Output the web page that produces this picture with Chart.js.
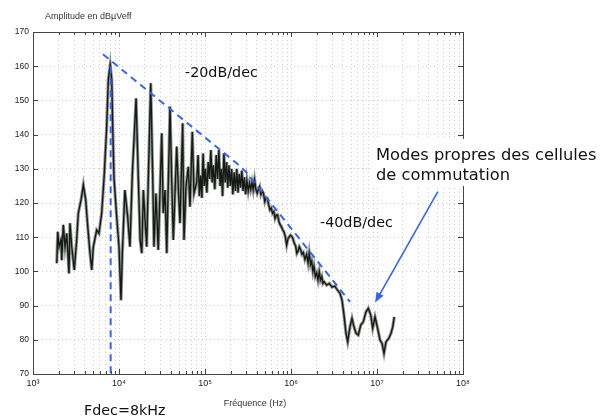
<!DOCTYPE html>
<html>
<head>
<meta charset="utf-8">
<script src="https://cdn.jsdelivr.net/npm/chart.js@4.4.0/dist/chart.umd.min.js"></script>
<style>
body { margin: 0; background: #fff; }
#wrap { width: 602px; height: 419px; }
</style>
</head>
<body>
<div id="wrap"><canvas id="spectre" width="602" height="419"></canvas></div>
<script>
// measured spectrum read off the plot: frequency (Hz) / amplitude (dBuV eff)
// low frequencies up to the 16 kHz harmonic
let freq_bas = [1890, 1940, 2010, 2120, 2160, 2250, 2360, 2470, 2620, 2690, 2820, 3020, 3220, 3360, 3620, 3850, 4100, 4330, 4600, 4820,
    5030, 5500, 5850, 6290, 6750, 7190, 7510, 7900, 8230, 8450, 8750, 9400, 10000, 10550, 10900, 11700, 12600, 13400, 14300, 15800];
let ampl_bas = [102.4, 111.6, 107.2, 109.2, 103.3, 113.6, 107.2, 111.1, 99.4, 114.1, 107.2, 100.4, 109.2, 117, 120.9, 125.3, 120.9, 113.1, 105.3, 100.4,
    107.2, 112.1, 111.1, 117, 128.7, 142.3, 156, 160.4, 156, 142.3, 127.2, 116, 107.2, 91.6, 104.3, 123.8, 116, 107.2, 128.7, 150.6];
// harmonics of Fdec
let freq_harm = [16800, 17600, 18400, 19200, 20100, 21000, 21900, 23400, 24700, 25500, 26900, 28600, 31400, 32700, 34300, 35900, 39200, 41000, 42800, 46900,
    48900, 51200, 55000, 57000, 60100, 63900, 66900, 71200, 74500];
let ampl_harm = [126.7, 109.2, 105.3, 123.8, 115, 107.2, 126.7, 155, 126.7, 107.2, 122.8, 106.3, 140.4, 117, 123.8, 105.3, 148.2, 126.7, 109.2, 136.5,
    124.8, 114.1, 143.3, 109.2, 124.8, 130.6, 118.9, 140.8, 122.8];
// dense band 80 kHz .. 300 kHz, then the slope down to 1.3 MHz
let freq_dense = [80000, 83000, 86000, 89000, 92000, 95000, 98000, 101000, 105000, 109000, 113000, 117000, 121000, 125000, 130000, 135000, 140000, 145000, 150000, 155000,
    160000, 166000, 172000, 178000, 184000, 190000, 197000, 204000, 211000, 218000, 226000, 234000, 242000, 250000, 259000, 268000, 277000, 287000, 297000, 307000,
    318000, 329000, 340000, 352000, 364000, 377000, 390000, 404000, 418000, 432000, 447000, 463000, 479000, 496000, 513000, 531000, 550000, 569000, 589000, 610000,
    631000, 653000, 676000, 700000, 724000, 750000, 776000, 803000, 831000, 860000, 890000, 921000, 953000, 986000, 1020000, 1055000, 1092000, 1130000, 1170000, 1210000,
    1250000, 1290000, 1340000];
let ampl_dense = [126, 134, 122, 128, 121.5, 134.5, 125, 130, 123, 132, 127, 135.5, 126, 131, 124, 134, 127, 135.5, 125, 130,
    122, 134.5, 126, 132, 124.5, 131, 125, 130, 122.5, 129, 123.5, 130, 123, 128.5, 124.5, 129.5, 123.5, 127.5, 122.5, 126.5,
    123.5, 125.8, 124, 126, 123.8, 126.7, 124, 122.8, 124, 124.8, 122.5, 123.5, 122.8, 120.4, 121.5, 121.4, 119.5, 118, 118.5, 117,
    117.5, 115.5, 116.5, 116.5, 114.5, 113.6, 113, 112.1, 111.5, 110.1, 107.7, 109.5, 110.1, 110.6, 110.3, 109.5, 108.2, 107.5, 105.3, 106,
    107.2, 106.5, 105];
// high frequencies, switching cell modes
let freq_hf = [1390000, 1450000, 1520000, 1580000, 1630000, 1690000, 1740000, 1800000, 1850000, 1920000, 1990000, 2060000, 2130000, 2200000, 2280000, 2350000, 2420000, 2600000, 2790000, 3000000,
    3220000, 3460000, 3710000, 3920000, 4130000, 4360000, 4560000, 4850000, 5120000, 5400000, 5700000, 6060000, 6470000, 6930000, 7450000, 7920000, 8450000, 8910000, 9480000, 10080000,
    10840000, 11430000, 12060000, 12730000, 13680000, 14550000, 15230000, 15890000];
let ampl_hf = [105.5, 103.5, 105, 102.5, 105.3, 102, 103, 100, 101.5, 98.5, 99.5, 97.5, 99.9, 97.5, 98.5, 96.5, 97, 96, 96.5, 95.4,
    95.7, 94.6, 93.6, 91.6, 87.3, 81.9, 79.4, 83.8, 86.3, 83.8, 81.9, 81.4, 84.3, 85.3, 88.2, 89.2, 87.3, 83.4, 86.7, 83.8,
    79.9, 79, 76, 79.4, 80.4, 81.9, 83.8, 86.7];

// dashed asymptote (-20dB/dec then -40dB/dec)
let pente_f = [6520, 233700, 262000, 291900, 4853000];
let pente_db = [163.5, 131.6, 130.5, 129.4, 91.1];
// switching frequency marker
let fdec_f = [8000, 8000];
let fdec_db = [160, 70];
// arrow towards the switching cell modes
let fleche_f = [51000000, 9500000];
let fleche_db = [123.3, 90.9];

let decades = [3, 4, 5, 6, 7, 8];
let xlabels = ['10\u00b3', '10\u2074', '10\u2075', '10\u2076', '10\u2077', '10\u2078'];
let ymin = 70, ymax = 170, ystep = 10;

let bleu = '#3366ee';

let freq = freq_bas.concat(freq_harm, freq_dense, freq_hf);
let ampl = ampl_bas.concat(ampl_harm, ampl_dense, ampl_hf);
let spectre = freq.map((f, i) => ({ x: f, y: ampl[i] }));

let xticks = [];
decades.forEach((e) => {
    if (e == 8) { xticks.push(Math.pow(10, e)); return; }
    for (let m = 1; m <= 9; m++) xticks.push(m * Math.pow(10, e));
});

const cadre = {
    id: 'cadre',
    afterDraw(chart) {
        const { ctx, chartArea: a, scales: { x, y } } = chart;
        ctx.save();
        ctx.strokeStyle = '#444';
        ctx.lineWidth = 1;
        ctx.strokeRect(Math.round(a.left) + 0.5, Math.round(a.top) + 0.5, Math.round(a.right - a.left), Math.round(a.bottom - a.top));
        // small inner tick marks, matlab style
        ctx.beginPath();
        x.ticks.forEach((t) => {
            let px = Math.round(x.getPixelForValue(t.value)) + 0.5;
            let len = t.label ? 5 : 3;
            ctx.moveTo(px, a.bottom); ctx.lineTo(px, a.bottom - len);
            ctx.moveTo(px, a.top); ctx.lineTo(px, a.top + len);
        });
        y.ticks.forEach((t) => {
            let py = Math.round(y.getPixelForValue(t.value)) + 0.5;
            ctx.moveTo(a.left, py); ctx.lineTo(a.left + 5, py);
            ctx.moveTo(a.right, py); ctx.lineTo(a.right - 5, py);
        });
        ctx.stroke();

        // arrow
        let x0 = x.getPixelForValue(fleche_f[0]), y0 = y.getPixelForValue(fleche_db[0]);
        let x1 = x.getPixelForValue(fleche_f[1]), y1 = y.getPixelForValue(fleche_db[1]);
        let ang = Math.atan2(y1 - y0, x1 - x0);
        ctx.strokeStyle = bleu;
        ctx.fillStyle = bleu;
        ctx.lineWidth = 1.6;
        ctx.beginPath();
        ctx.moveTo(x0, y0);
        ctx.lineTo(x1 - 8 * Math.cos(ang), y1 - 8 * Math.sin(ang));
        ctx.stroke();
        ctx.beginPath();
        ctx.moveTo(x1, y1);
        ctx.lineTo(x1 - 10 * Math.cos(ang) + 4 * Math.sin(ang), y1 - 10 * Math.sin(ang) - 4 * Math.cos(ang));
        ctx.lineTo(x1 - 10 * Math.cos(ang) - 4 * Math.sin(ang), y1 - 10 * Math.sin(ang) + 4 * Math.cos(ang));
        ctx.closePath();
        ctx.fill();

        // texts
        ctx.fillStyle = '#333';
        ctx.textBaseline = 'middle';
        ctx.font = '9px "Liberation Sans", Arial, sans-serif';
        ctx.textAlign = 'left';
        ctx.fillText('Amplitude en dB\u00b5Veff', 45, 17);
        ctx.textAlign = 'center';
        ctx.fillText('Fr\u00e9quence (Hz)', 255, 404);

        ctx.fillStyle = '#111';
        ctx.textAlign = 'left';
        ctx.textBaseline = 'alphabetic';
        ctx.font = '14.3px "DejaVu Sans", sans-serif';
        ctx.fillText('-20dB/dec', 185, 77);
        ctx.fillText('-40dB/dec', 320, 227);
        ctx.fillText('Fdec=8kHz', 84, 415);
        // text box with white background over the plot frame
        ctx.fillStyle = '#fff';
        ctx.fillRect(372, 139, 230, 47);
        ctx.fillStyle = '#111';
        ctx.font = '16.3px "DejaVu Sans", sans-serif';
        ctx.fillText('Modes propres des cellules', 376, 160);
        ctx.fillText('de commutation', 376, 180);
        ctx.restore();
    }
};

let ctx = document.getElementById('spectre');
let chart = new Chart(ctx, {
    type: 'line',
    data: {
        datasets: [
            {
                // dark trace
                data: spectre,
                borderColor: '#161916',
                borderWidth: 1.4,
                pointRadius: 0,
                tension: 0,
                order: 2,
            },
            {
                // grey halo of the scanned trace
                data: spectre,
                borderColor: 'rgba(120,126,120,0.8)',
                borderWidth: 3.2,
                pointRadius: 0,
                tension: 0,
                order: 3,
            },
            {
                data: pente_f.map((f, i) => ({ x: f, y: pente_db[i] })),
                borderColor: bleu,
                borderWidth: 2,
                borderDash: [7, 5],
                pointRadius: 0,
                tension: 0,
                order: 1,
            },
            {
                data: fdec_f.map((f, i) => ({ x: f, y: fdec_db[i] })),
                borderColor: bleu,
                borderWidth: 2,
                borderDash: [7, 5],
                pointRadius: 0,
                order: 1,
            },
        ],
    },
    options: {
        responsive: false,
        animation: false,
        layout: { padding: { left: 0, top: 32, right: 139, bottom: 0 } },
        plugins: { legend: { display: false }, tooltip: { enabled: false } },
        scales: {
            x: {
                type: 'logarithmic',
                min: Math.pow(10, decades[0]),
                max: Math.pow(10, decades[decades.length - 1]),
                afterBuildTicks: (s) => { s.ticks = xticks.map((v) => ({ value: v })); },
                afterFit: (s) => { s.height = 45; },
                ticks: {
                    autoSkip: false,
                    maxRotation: 0,
                    padding: 4,
                    color: '#222',
                    font: { family: '"Liberation Sans", Arial, sans-serif', size: 9 },
                    callback: (v) => {
                        let e = Math.log10(v);
                        let k = decades.indexOf(Math.round(e));
                        return Math.abs(e - Math.round(e)) < 1e-9 && k >= 0 ? xlabels[k] : '';
                    },
                },
                grid: { color: '#cfcfcf', drawTicks: false },
                border: { color: '#444', dash: [1, 3] },
            },
            y: {
                min: ymin,
                max: ymax,
                afterFit: (s) => { s.width = 33; },
                ticks: {
                    stepSize: ystep,
                    padding: 4,
                    color: '#222',
                    font: { family: '"Liberation Sans", Arial, sans-serif', size: 8.5 },
                },
                grid: { color: '#cfcfcf', drawTicks: false },
                border: { color: '#444', dash: [1, 3] },
            },
        },
    },
    plugins: [cadre],
});
</script>
</body>
</html>
